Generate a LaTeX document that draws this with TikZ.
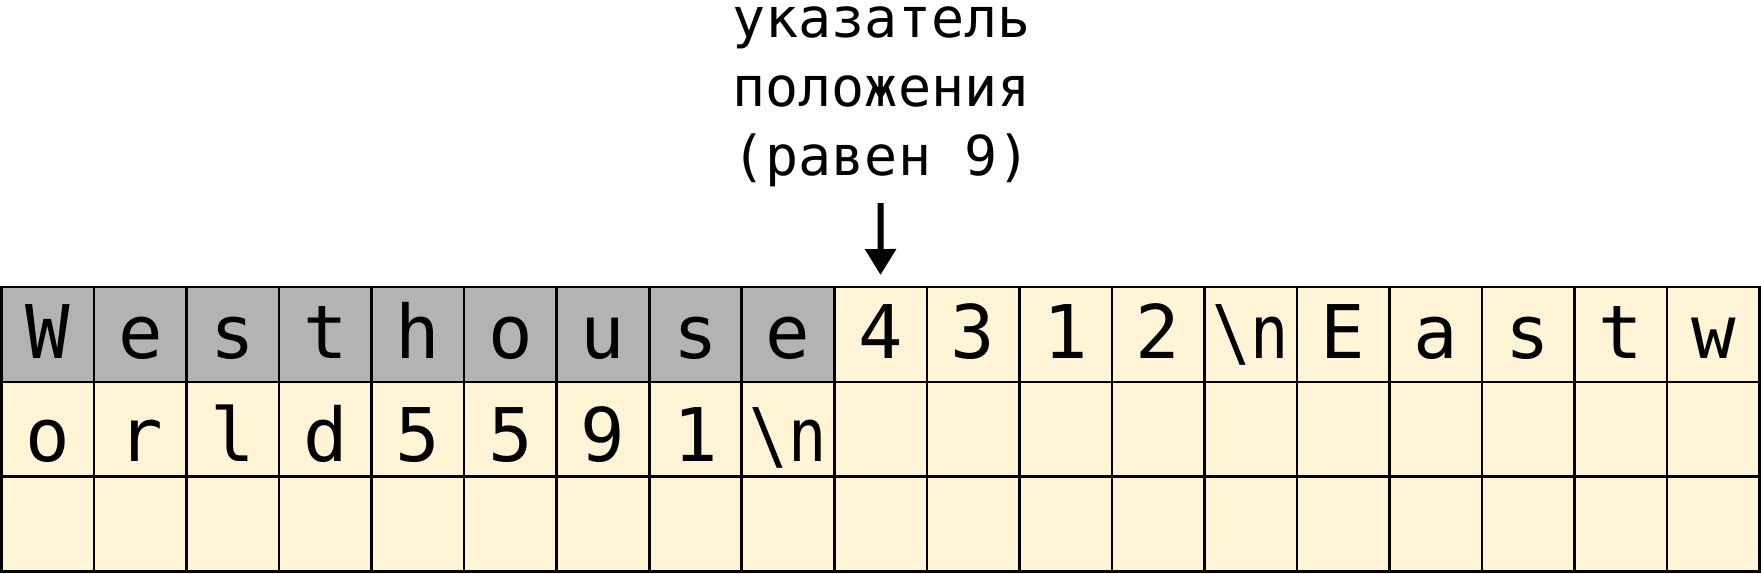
\documentclass[tikz,border=0pt]{standalone}
\usepackage{fontspec}
\usepackage{xcolor}
\usepackage{graphicx}
\usepackage{tikz}
\usetikzlibrary{arrows.meta}
\newfontfamily\dejamono{DejaVu Sans Mono}
\newcommand{\cellfont}{\dejamono\fontsize{37}{44}\selectfont}
\newcommand{\ptrfont}{\dejamono\fontsize{27.5}{34.5}\selectfont}
\newcommand{\nl}{\scalebox{0.86}[1]{\textbackslash n}}
\definecolor{cream}{HTML}{FFF4D6}
\definecolor{shade}{HTML}{B3B3B3}

\begin{document}
\begin{tikzpicture}[x=0.5pt, y=-0.5pt,
  cellbox/.style={draw=black, line width=1.3pt, minimum width=46.27pt,
    minimum height=47.4pt, inner sep=0pt, outer sep=0pt},
  glyph/.style={anchor=base, inner sep=0pt, font=\cellfont},
  ptrlabel/.style={align=center, anchor=base, inner sep=0pt, font=\ptrfont},
  ptrarrow/.style={line width=3pt, -{Triangle[length=13pt, width=15pt]}}]
\useasboundingbox (0,0) rectangle (1761,573);
% first row: the part already read is shaded
\foreach \ch [count=\i from 0] in {W,e,s,t,h,o,u,s,e,4,3,1,2,\nl,E,a,s,t,w}{
  \ifnum\i<9 \def\tint{shade}\else\def\tint{cream}\fi
  \node[cellbox, fill=\tint] (c0-\i) at ({1.5+92.53*(\i+0.5)}, 334.4) {};
  \node[glyph] (t0-\i) at (c0-\i.center |- 0,358) {\ch};
}
% second row
\foreach \ch [count=\i from 0] in {o,r,l,d,5,5,9,1,\nl}{
  \node[cellbox, fill=cream] (c1-\i) at ({1.5+92.53*(\i+0.5)}, 429.2) {};
  \node[glyph] (t1-\i) at (c1-\i.center |- 0,461) {\ch};
}
\foreach \i in {9,...,18}
  \node[cellbox, fill=cream] (c1-\i) at ({1.5+92.53*(\i+0.5)}, 429.2) {};
% third row, still empty
\foreach \i in {0,...,18}
  \node[cellbox, fill=cream] (c2-\i) at ({1.5+92.53*(\i+0.5)}, 524) {};

% position pointer (base = last line)
\node[ptrlabel] (ptr) at (881.5,175) {указатель\\положения\\(равен 9)};
\coordinate (ptrtop) at (880.5,203);
\draw[ptrarrow] (ptrtop) -- ([yshift=6pt]c0-9.north);
\end{tikzpicture}
\end{document}
